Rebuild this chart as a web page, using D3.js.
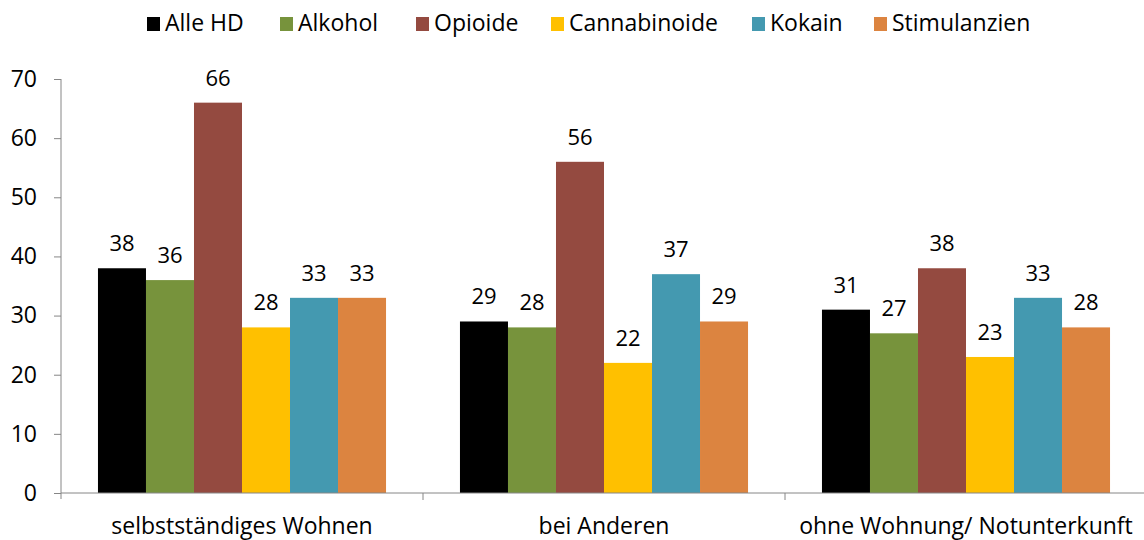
<!DOCTYPE html>
<html>
<head>
<meta charset="utf-8">
<script src="https://d3js.org/d3.v7.min.js"></script>
<style>
  body { margin: 0; background: #fff; }
  text { font-family: "Open Sans", sans-serif; fill: #000; }
</style>
</head>
<body>
<svg id="chart" width="1144" height="540"></svg>
<script>
var categories = ["selbstständiges Wohnen", "bei Anderen", "ohne Wohnung/ Notunterkunft"];
var seriesNames = ["Alle HD", "Alkohol", "Opioide", "Cannabinoide", "Kokain", "Stimulanzien"];
var seriesColors = ["#000000", "#77933c", "#944a40", "#ffc000", "#4499b0", "#dc8440"];
var allHD = [38, 29, 31];
var alkohol = [36, 28, 27];
var opioide = [66, 56, 38];
var cannabinoide = [28, 22, 23];
var kokain = [33, 37, 33];
var stimulanzien = [33, 29, 28];
var yTicks = [0, 10, 20, 30, 40, 50, 60, 70];

var seriesValues = [allHD, alkohol, opioide, cannabinoide, kokain, stimulanzien];

var svg = d3.select("#chart"),
    margin = {top: 79, right: -3, bottom: 47, left: 61},
    width = svg.attr("width") - margin.left - margin.right,
    height = svg.attr("height") - margin.top - margin.bottom;

var x0 = d3.scaleBand().domain(categories).range([0, width]).paddingInner(0).paddingOuter(0);
var x1 = d3.scaleBand().domain(seriesNames).range([0, x0.bandwidth()]).paddingInner(0).paddingOuter(0.77);
var y = d3.scaleLinear().domain([0, 70]).range([height, 0]);

var g = svg.append("g")
    .attr("transform", "translate(" + margin.left + "," + margin.top + ")");

// y axis
var yAxis = g.append("g")
    .call(d3.axisLeft(y).tickValues(yTicks).tickSize(7).tickPadding(17).tickSizeOuter(0));
yAxis.select(".domain").remove();
yAxis.append("line")
    .attr("x1", 0).attr("x2", 0)
    .attr("y1", 0).attr("y2", height + 6)
    .attr("stroke", "#868686");
yAxis.selectAll(".tick line").attr("stroke", "#868686");
yAxis.selectAll(".tick text")
    .style("font-size", "23px")
    .attr("fill", "#000");

// bars
var groups = g.selectAll(".group")
    .data(categories)
    .enter().append("g")
    .attr("class", "group")
    .attr("transform", function(d) { return "translate(" + x0(d) + ",0)"; });

groups.selectAll("rect")
    .data(function(d, ci) {
      return seriesNames.map(function(s, si) {
        return {series: s, value: seriesValues[si][ci], color: seriesColors[si]};
      });
    })
    .enter().append("rect")
    .attr("x", function(d) { return x1(d.series); })
    .attr("y", function(d) { return y(d.value); })
    .attr("width", x1.bandwidth())
    .attr("height", function(d) { return height - y(d.value); })
    .attr("fill", function(d) { return d.color; });

groups.selectAll(".val")
    .data(function(d, ci) {
      return seriesNames.map(function(s, si) {
        return {series: s, value: seriesValues[si][ci]};
      });
    })
    .enter().append("text")
    .attr("class", "val")
    .attr("x", function(d) { return x1(d.series) + x1.bandwidth() / 2; })
    .attr("y", function(d) { return y(d.value) - 17; })
    .attr("text-anchor", "middle")
    .style("font-size", "22px")
    .text(function(d) { return d.value; });

// x axis
var xAxis = g.append("g")
    .attr("transform", "translate(0," + height + ")");
xAxis.append("line")
    .attr("x1", 0).attr("x2", width)
    .attr("stroke", "#868686");
xAxis.selectAll(".sep")
    .data(categories)
    .enter().append("line")
    .attr("class", "sep")
    .attr("x1", function(d) { return x0(d) + x0.bandwidth(); })
    .attr("x2", function(d) { return x0(d) + x0.bandwidth(); })
    .attr("y1", 0).attr("y2", 7)
    .attr("stroke", "#868686");
xAxis.selectAll(".cat")
    .data(categories)
    .enter().append("text")
    .attr("class", "cat")
    .attr("x", function(d) { return x0(d) + x0.bandwidth() / 2; })
    .attr("y", 41)
    .attr("text-anchor", "middle")
    .style("font-size", "23px")
    .text(function(d) { return d; });

// legend
var legendX = [147, 280, 416, 551, 752, 874];
var legend = svg.append("g").attr("class", "legend");
var items = legend.selectAll(".item")
    .data(seriesNames)
    .enter().append("g")
    .attr("class", "item")
    .attr("transform", function(d, i) { return "translate(" + legendX[i] + ",17)"; });
items.append("rect")
    .attr("width", 13).attr("height", 14)
    .attr("fill", function(d, i) { return seriesColors[i]; });
items.append("text")
    .attr("x", 18).attr("y", 14)
    .style("font-size", "23px")
    .text(function(d) { return d; });
</script>
</body>
</html>
